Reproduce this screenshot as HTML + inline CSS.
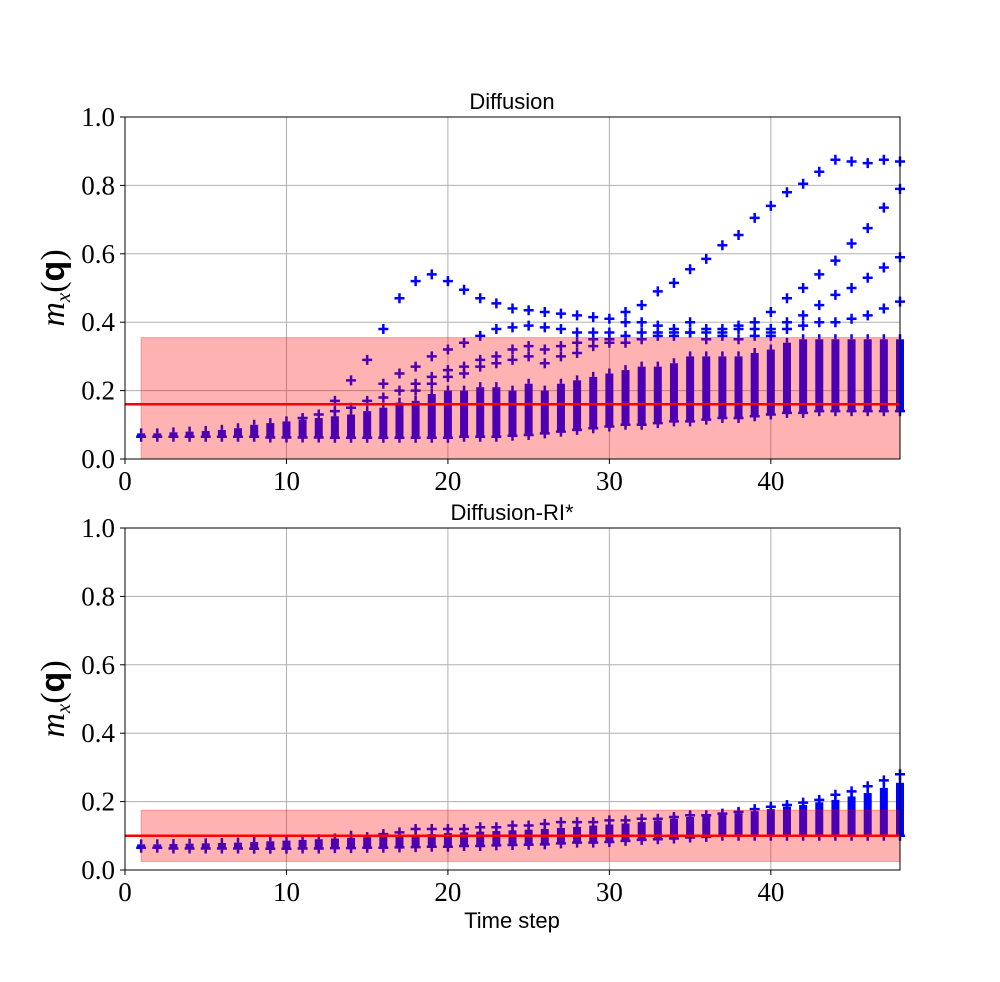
<!DOCTYPE html>
<html><head><meta charset="utf-8"><style>
body{margin:0;background:#fff}
svg text{fill:#000}
.tk{font-family:"Liberation Serif",serif;font-size:27px}
.tt{font-family:"Liberation Sans",sans-serif;font-size:22px}
</style></head><body>
<svg id="chart" width="1000" height="977" xmlns="http://www.w3.org/2000/svg"></svg>
<script>
// ---- data ----
const steps = [1,2,3,4,5,6,7,8,9,10,11,12,13,14,15,16,17,18,19,20,21,22,23,24,25,26,27,28,29,30,31,32,33,34,35,36,37,38,39,40,41,42,43,44,45,46,47,48];
const p1Lo = [.065,.065,.065,.065,.065,.065,.065,.065,.063,.063,.063,.063,.062,.062,.062,.062,.062,.062,.062,.062,.065,.065,.065,.068,.07,.075,.08,.085,.09,.095,.1,.1,.105,.11,.11,.115,.12,.12,.125,.13,.135,.135,.14,.14,.14,.14,.14,.14];
const p1Hi = [.075,.075,.078,.08,.082,.085,.09,.1,.105,.11,.115,.12,.125,.13,.14,.15,.165,.17,.19,.2,.2,.21,.21,.2,.22,.2,.22,.23,.24,.25,.26,.27,.27,.28,.3,.3,.3,.3,.31,.32,.34,.35,.35,.35,.35,.35,.35,.35];
const p1OutX = [16,17,18,19,20,21,22,23,24,25,26,27,28,29,30,31,32,33,34,35,36,37,38,39,40,41,42,43,44,45,46,47,48,
 13,14,15,16,17,18,19,20,21,22,23,24,25,26,27,28,29,30,31,32,33,34,35,36,37,38,39,40,41,42,43,44,45,46,47,48,
 40,41,42,43,44,45,46,47,48,
 11,12,13,14,15,16,17,18,19,20,21,22,23,24,25,26,27,28,29,30,31,32,33,34,35,36,37,38,39,40,41,42,43,44,45,46,47,48,
 18,19,20,21,22,23,24,25,26,27,28,29,30,31,32,33,34,35,36,37,38,39,40];
const p1OutY = [.38,.47,.52,.54,.52,.495,.47,.455,.44,.435,.43,.425,.42,.415,.41,.43,.45,.49,.515,.555,.585,.625,.655,.705,.74,.78,.805,.84,.875,.87,.865,.875,.87,
 .17,.23,.29,.22,.25,.27,.3,.32,.34,.36,.38,.385,.39,.385,.38,.37,.37,.37,.40,.40,.39,.38,.40,.38,.38,.39,.40,.43,.47,.50,.54,.58,.63,.675,.735,.79,
 .38,.40,.42,.45,.48,.50,.53,.56,.59,
 .12,.13,.14,.15,.17,.18,.2,.22,.24,.26,.27,.29,.3,.32,.33,.32,.33,.34,.35,.35,.36,.37,.37,.37,.37,.37,.37,.38,.38,.37,.38,.39,.4,.4,.41,.42,.44,.46,
 .2,.22,.24,.25,.27,.28,.29,.3,.28,.3,.31,.33,.34,.34,.35,.36,.36,.37,.35,.36,.35,.36,.36];
const p2Lo = [.065,.065,.063,.063,.063,.063,.063,.062,.062,.062,.063,.063,.064,.064,.065,.065,.066,.067,.068,.068,.07,.07,.072,.073,.074,.075,.078,.08,.08,.082,.085,.088,.09,.092,.095,.097,.1,.1,.1,.1,.1,.1,.1,.1,.1,.1,.1,.1];
const p2Hi = [.075,.075,.076,.077,.078,.079,.08,.082,.084,.086,.088,.09,.092,.094,.096,.098,.1,.102,.105,.108,.11,.112,.114,.116,.118,.12,.123,.126,.13,.133,.136,.14,.145,.15,.155,.158,.162,.166,.172,.178,.185,.19,.198,.205,.215,.225,.24,.255];
const p2OutX = [14,16,17,18,19,20,21,22,23,24,25,26,27,28,29,30,31,32,33,34,35,36,37,38,39,40,41,42,43,44,45,46,47,48];
const p2OutY = [.1,.105,.11,.12,.12,.12,.12,.125,.125,.13,.13,.135,.14,.14,.14,.145,.145,.15,.15,.155,.16,.16,.165,.17,.178,.185,.19,.197,.205,.22,.23,.245,.262,.28];
const xTicks = [0,10,20,30,40];
const yTicks = [0.0,0.2,0.4,0.6,0.8,1.0];

const NS="http://www.w3.org/2000/svg";
const svg=document.getElementById('chart');
function el(tag,attrs,parent){const e=document.createElementNS(NS,tag);for(const k in attrs)e.setAttribute(k,attrs[k]);(parent||svg).appendChild(e);return e;}

function panel(top,title,lo,hi,ox,oy,bandLo,bandHi,lineY,name,xlabel){
  const L=125,R=900,B=top+342;
  const X=v=>L+(v-0)/48*(R-L);
  const Y=v=>B-v*342;
  const g=el('g',{});
  
  
  xTicks.forEach(t=>{const l=el('line',{x1:X(t),x2:X(t),y1:top,y2:B,stroke:'#b0b0b0','stroke-width':1},g);
    });
  yTicks.forEach(t=>{const l=el('line',{x1:L,x2:R,y1:Y(t),y2:Y(t),stroke:'#b0b0b0','stroke-width':1},g);
    });
  steps.forEach((s,i)=>{
    const r=el('rect',{x:X(s)-4,y:Y(hi[i]),width:8,height:Y(lo[i])-Y(hi[i]),fill:'#0000ff'},g);
    
    const c=el('path',{d:`M${X(s)-5} ${Y(lo[i])}H${X(s)+5}M${X(s)} ${Y(lo[i])}V${Y(lo[i])+5}M${X(s)} ${Y(hi[i])}V${Y(hi[i])-5}`,stroke:'#0000ff','stroke-width':2.5},g);
    
  });
  ox.forEach((s,i)=>{
    const cx=X(s),cy=Y(oy[i]);
    const p=el('path',{d:`M${cx-5} ${cy}H${cx+5}M${cx} ${cy-5}V${cy+5}`,stroke:'#0000ff','stroke-width':2.5},g);
    
  });
  const bd=el('rect',{x:X(1),y:Y(bandHi),width:X(48)-X(1),height:Y(bandLo)-Y(bandHi),fill:'rgba(255,0,0,0.3)',stroke:'rgba(255,0,0,0.3)','stroke-width':1},g);
  
  const ml=el('line',{x1:L,x2:R,y1:Y(lineY),y2:Y(lineY),stroke:'#ff0000','stroke-width':2.5},g);
  
  const fr=el('rect',{x:L,y:top,width:R-L,height:342,fill:'none',stroke:'#000','stroke-width':1},g);
  
  xTicks.forEach(t=>{el('line',{x1:X(t),x2:X(t),y1:B,y2:B+5,stroke:'#000'},g);
    const tx=el('text',{x:X(t),y:B+31,'text-anchor':'middle',class:'tk'},g);tx.textContent=t;
    });
  yTicks.forEach(t=>{el('line',{x1:L-5,x2:L,y1:Y(t),y2:Y(t),stroke:'#000'},g);
    const tx=el('text',{x:L-10,y:Y(t)+9,'text-anchor':'end',class:'tk'},g);tx.textContent=t.toFixed(1);
    });
  const ti=el('text',{x:512,y:top-8,'text-anchor':'middle',class:'tt'},g);ti.textContent=title;
  
  const yl=el('text',{transform:`translate(64,${top+171}) rotate(-90)`,'text-anchor':'middle','font-family':'Liberation Serif,serif','font-size':'34px'},g);
  yl.innerHTML='<tspan font-style="italic">m</tspan><tspan font-style="italic" font-size="21" dy="6">x</tspan><tspan dy="-6">(</tspan><tspan font-weight="bold" font-family="Liberation Sans,sans-serif">q</tspan>)';
  
  if(xlabel){const xl=el('text',{x:512,y:928,'text-anchor':'middle',class:'tt'},g);xl.textContent=xlabel;
    }
}
panel(117,'Diffusion',p1Lo,p1Hi,p1OutX,p1OutY,0,0.355,0.16,'diffusion-panel',null);
panel(528,'Diffusion-RI*',p2Lo,p2Hi,p2OutX,p2OutY,0.025,0.175,0.1,'diffusion-ri-panel','Time step');
</script>
</body></html>
